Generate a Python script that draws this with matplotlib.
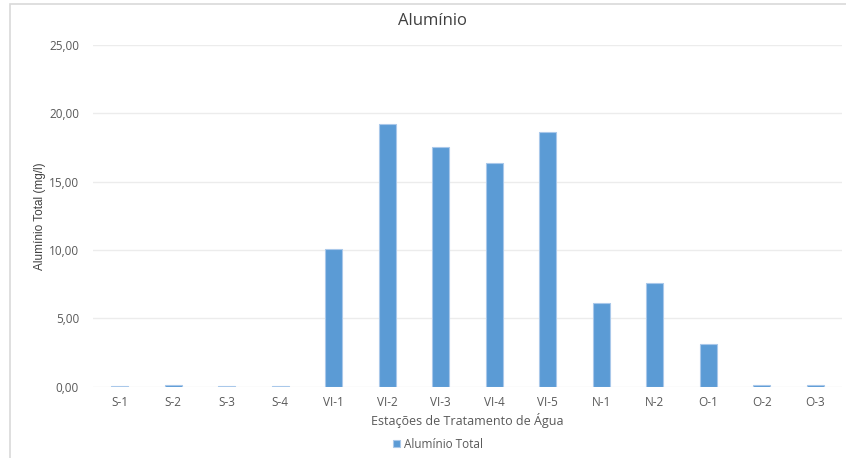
import matplotlib.pyplot as plt
from matplotlib.patches import Rectangle
from matplotlib.ticker import FuncFormatter

# Aluminium totals per water treatment station
stations = ['S-1', 'S-2', 'S-3', 'S-4', 'VI-1', 'VI-2', 'VI-3', 'VI-4', 'VI-5',
            'N-1', 'N-2', 'O-1', 'O-2', 'O-3']
aluminio = [0.05, 0.15, 0.05, 0.05, 10.06, 19.19, 17.57, 16.35, 18.62,
            6.09, 7.60, 3.15, 0.10, 0.10]
yticks = [0, 5, 10, 15, 20, 25]

W, H = 846, 458
fig = plt.figure(figsize=(W / 100, H / 100), dpi=100)
plt.rcParams['font.family'] = ['Open Sans', 'DejaVu Sans']

# chart frame
fig.patches.append(Rectangle((10 / W, -0.1), 1.0, 1 - 4 / H + 0.1,
                             transform=fig.transFigure, fill=False,
                             edgecolor='#d9d9d9', linewidth=1.2))

ax = fig.add_axes([93 / W, 1 - 386.6 / H, (842 - 93) / W, (386.6 - 45) / H])
x = range(len(stations))
ax.bar(x, aluminio, width=0.31, color='#5b9bd5', edgecolor='#a9c8ea',
       linewidth=0.8, label='Alumínio Total', zorder=3)

ax.set_xlim(-0.5, len(stations) - 0.5)
ax.set_ylim(0, 25)
ax.set_yticks(yticks)
ax.yaxis.set_major_formatter(FuncFormatter(lambda v, p: f'{v:.2f}'.replace('.', ',')))
ax.set_xticks(list(x))
ax.set_xticklabels(stations)
ax.grid(axis='y', color='#ececec', linewidth=1, zorder=0)
for s in ax.spines.values():
    s.set_visible(False)
ax.tick_params(length=0, labelsize=8.5, colors='#595959', pad=7)
ax.tick_params(axis='y', pad=10)

# title is centred on the whole chart area, not the plot
fig.text(432 / W, 1 - 21 / H, 'Alumínio', fontsize=12, color='#404040',
         ha='center', va='center')
ax.set_xlabel('Estações de Tratamento de Água', fontsize=9, color='#595959', labelpad=3)
ax.set_ylabel('Alumínio Total (mg/l)', fontsize=8.5, color='#404040',
              family=['Liberation Sans', 'DejaVu Sans'], labelpad=2)

fig.legend(loc='center', bbox_to_anchor=(438 / W, 1 - 444 / H), frameon=False,
           fontsize=8.5, labelcolor='#595959', handlelength=0.6, handleheight=0.6,
           handletextpad=0.3)

fig.savefig('out.png', dpi=100)
